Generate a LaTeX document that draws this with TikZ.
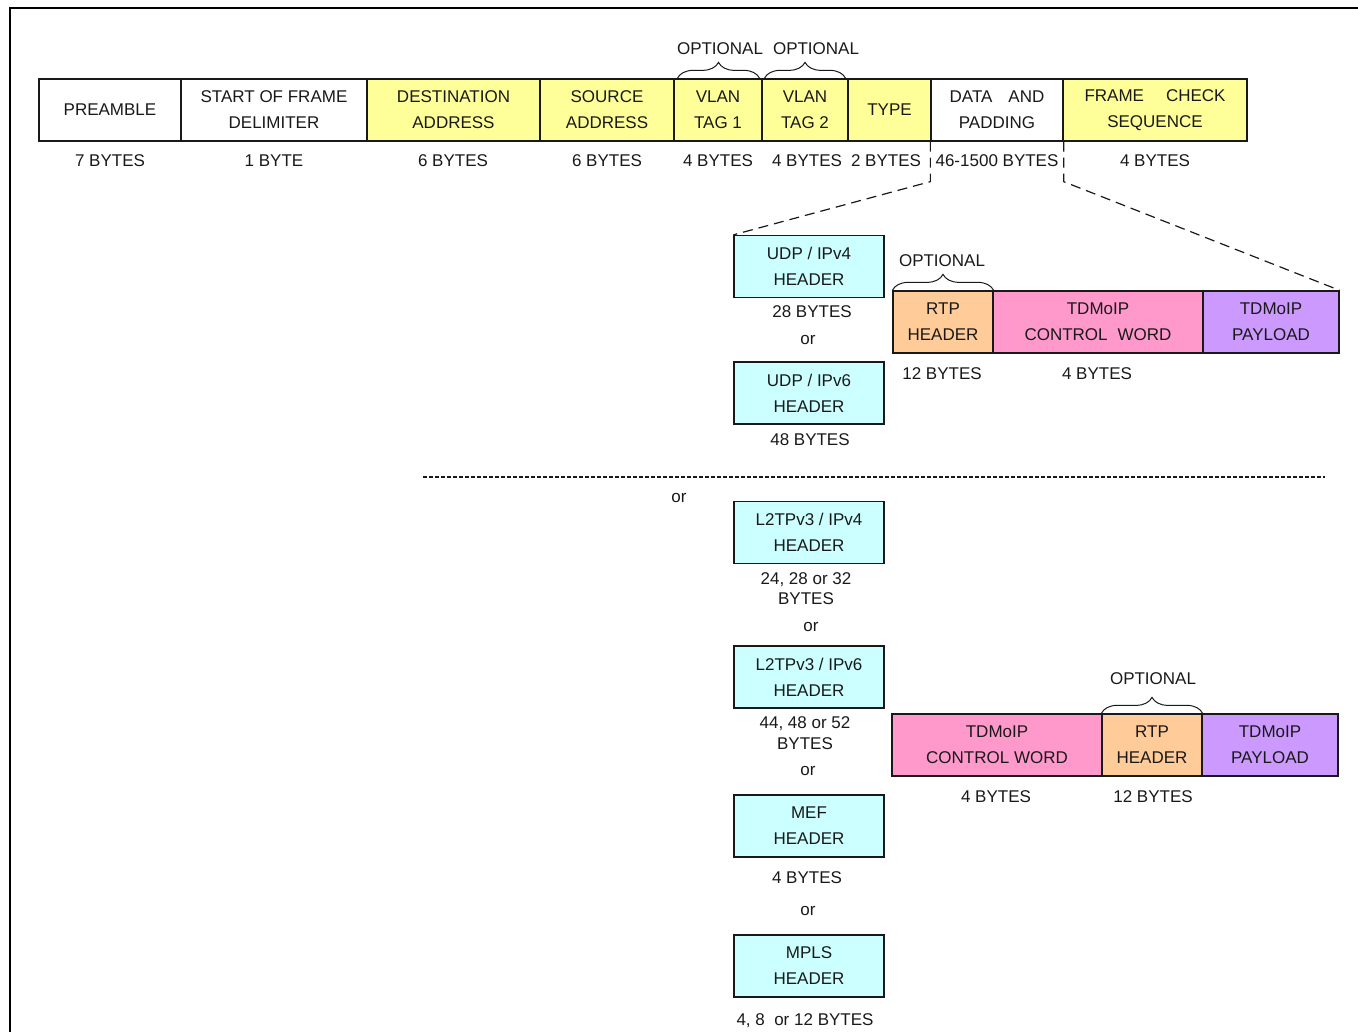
\documentclass[tikz,border=0pt]{standalone}
\usepackage{fontspec}
\setmainfont{Liberation Sans}
\usetikzlibrary{decorations.pathreplacing}
\definecolor{fyellow}{HTML}{FFFF99}
\definecolor{fcyan}{HTML}{CCFFFF}
\definecolor{forange}{HTML}{FFCC99}
\definecolor{fpink}{HTML}{FF99CC}
\definecolor{fpurple}{HTML}{CC99FF}
\begin{document}
\begin{tikzpicture}[x=1pt,y=-1pt,
  every node/.style={font=\fontsize{17}{26}\selectfont, inner sep=0pt, text=black!90},
  fld/.style={draw=black!90, line width=1.3pt, minimum height=62pt, align=center},
  wfld/.style={fld, fill=white},
  yfld/.style={fld, fill=fyellow},
  cfld/.style={fld, fill=fcyan, minimum width=150pt},
  ofld/.style={fld, fill=forange},
  pfld/.style={fld, fill=fpink},
  ufld/.style={fld, fill=fpurple},
  lbl/.style={anchor=base},
  brc/.style={decorate, decoration={brace, amplitude=16pt}, line width=1pt, draw=black!90},
  dsh/.style={line width=1.2pt, dash pattern=on 10pt off 6pt, draw=black!90},
  sep/.style={line width=1.2pt, dash pattern=on 4pt off 2pt, draw=black!90}
]
\useasboundingbox (0,0) rectangle (1358,1032);
% outer frame
\coordinate (fa) at (10,1032);
\coordinate (fb) at (10,8);
\coordinate (fc) at (1358,8);
\draw[line width=2pt] (fa) -- (fb) -- (fc);

% main Ethernet frame row
\node[wfld, minimum width=142pt] (pre) at (110,110) {PREAMBLE};
\node[wfld, minimum width=186pt] (sof) at (274,110) {START OF FRAME\\DELIMITER};
\node[yfld, minimum width=173pt] (dst) at (453.5,110) {DESTINATION\\ADDRESS};
\node[yfld, minimum width=134pt] (src) at (607,110) {SOURCE\\ADDRESS};
\node[yfld, minimum width=88pt] (v1) at (718,110) {VLAN\\TAG 1};
\node[yfld, minimum width=86pt] (v2) at (805,110) {VLAN\\TAG 2};
\node[yfld, minimum width=83pt] (typ) at (889.5,110) {TYPE};
\node[wfld, minimum width=132pt] (dat) at (997,110) {DATA\hspace{16pt}AND\\PADDING};
\node[yfld, minimum width=184pt] (fcs) at (1155,110) {FRAME\hspace{22pt}CHECK\\SEQUENCE};

% optional braces on VLAN tags
\draw[brc] ([xshift=4pt]v1.north west) -- ([xshift=-3pt]v1.north east);
\draw[brc] ([xshift=3pt]v2.north west) -- ([xshift=-3pt]v2.north east);
\node[lbl] (o1) at (720,55) {OPTIONAL};
\node[lbl] (o2) at (816,55) {OPTIONAL};

% byte counts row 1
\node[lbl] (b1) at (110,167) {7 BYTES};
\node[lbl] (b2) at (274,167) {1 BYTE};
\node[lbl] (b3) at (453,167) {6 BYTES};
\node[lbl] (b4) at (607,167) {6 BYTES};
\node[lbl] (b5) at (718,167) {4 BYTES};
\node[lbl] (b6) at (807,167) {4 BYTES};
\node[lbl] (b7) at (886,167) {2 BYTES};
\node[lbl] (b8) at (997,167) {46-1500 BYTES};
\node[lbl] (b9) at (1155,167) {4 BYTES};

% UDP/IP headers
\node[cfld] (udp4) at (809,266.5) {UDP / IPv4\\HEADER};
\node[lbl] (u4b) at (812,318) {28 BYTES};
\node[lbl] (or1) at (808,344.5) {or};
\node[cfld] (udp6) at (809,393) {UDP / IPv6\\HEADER};
\node[lbl] (u6b) at (810,445) {48 BYTES};

% top-right payload row
\node[ofld, minimum width=100pt] (rtp1) at (943,322) {RTP\\HEADER};
\node[pfld, minimum width=210pt] (cw1) at (1098,322) {TDMoIP\\CONTROL\hspace{10pt}WORD};
\node[ufld, minimum width=136pt] (pl1) at (1271,322) {TDMoIP\\PAYLOAD};
\draw[brc] (rtp1.north west) -- (rtp1.north east);
\node[lbl] (o3) at (942,267) {OPTIONAL};
\node[lbl] (r1b) at (942,380) {12 BYTES};
\node[lbl] (c1b) at (1097,380) {4 BYTES};

% expansion lines
\draw[dsh] (dat.south west) -- ++(0,40) -- (udp4.north west);
\draw[dsh] (dat.south east) -- ++(0,40) -- (pl1.north east);

% separator
\coordinate (sa) at (423,477);
\coordinate (sb) at (1325,477);
\draw[sep] (sa) -- (sb);
\node[lbl] (or2) at (679,502.5) {or};

% other encapsulations
\node[cfld] (l2v4) at (809,532.5) {L2TPv3 / IPv4\\HEADER};
\node[lbl] (l4a) at (806,584) {24, 28 or 32};
\node[lbl] (l4b) at (806,604) {BYTES};
\node[lbl] (or3) at (811,631.5) {or};
\node[cfld] (l2v6) at (809,677) {L2TPv3 / IPv6\\HEADER};
\node[lbl] (l6a) at (805,728) {44, 48 or 52};
\node[lbl] (l6b) at (805,749) {BYTES};
\node[lbl] (or4) at (808,775.5) {or};
\node[cfld] (mef) at (809,826) {MEF\\HEADER};
\node[lbl] (mefb) at (807,883) {4 BYTES};
\node[lbl] (or5) at (808,915.5) {or};
\node[cfld] (mpls) at (809,966) {MPLS\\HEADER};
\node[lbl] (mplsb) at (805,1025) {4, 8\ \ or 12 BYTES};

% bottom-right payload row
\node[pfld, minimum width=210pt] (cw2) at (997,745) {TDMoIP\\CONTROL WORD};
\node[ofld, minimum width=100pt] (rtp2) at (1152,745) {RTP\\HEADER};
\node[ufld, minimum width=136pt] (pl2) at (1270,745) {TDMoIP\\PAYLOAD};
\draw[brc] (rtp2.north west) -- (rtp2.north east);
\node[lbl] (o4) at (1153,684) {OPTIONAL};
\node[lbl] (c2b) at (996,802) {4 BYTES};
\node[lbl] (r2b) at (1153,802) {12 BYTES};
\end{tikzpicture}
\end{document}
